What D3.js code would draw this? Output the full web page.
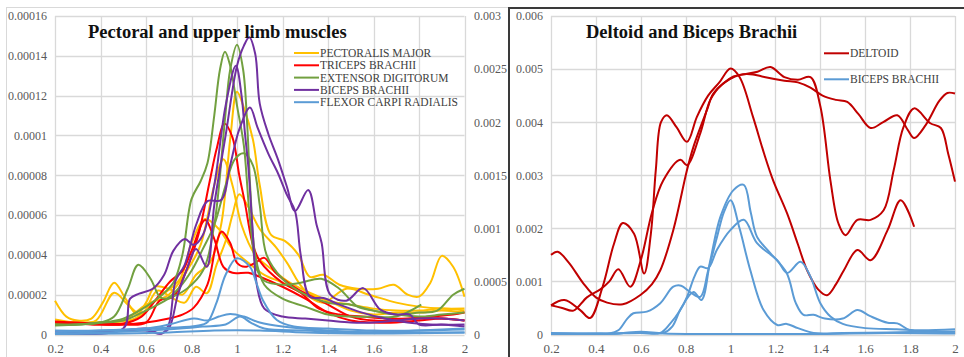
<!DOCTYPE html>
<html>
<head>
<meta charset="utf-8">
<script src="https://cdn.jsdelivr.net/npm/d3@7"></script>
<style>
  body { margin: 0; background: #fff; }
  svg { display: block; font-family: "Liberation Serif", "Times New Roman", serif; }
</style>
</head>
<body>
<svg id="chart" width="964" height="357"></svg>
<script>
// ---------- shared axis ticks ----------
const xTicks = [0.2, 0.4, 0.6, 0.8, 1.0, 1.2, 1.4, 1.6, 1.8, 2.0];
const xTickLabels = ["0.2", "0.4", "0.6", "0.8", "1", "1.2", "1.4", "1.6", "1.8", "2"];

const leftYTicks = [0, 0.00002, 0.00004, 0.00006, 0.00008, 0.0001, 0.00012, 0.00014, 0.00016];
const leftYTickLabels = ["0", "0.00002", "0.00004", "0.00006", "0.00008", "0.0001", "0.00012", "0.00014", "0.00016"];
const secondaryYTicks = [0, 0.0005, 0.001, 0.0015, 0.002, 0.0025, 0.003];
const secondaryYTickLabels = ["0", "0.0005", "0.001", "0.0015", "0.002", "0.0025", "0.003"];
const rightYTicks = [0, 0.001, 0.002, 0.003, 0.004, 0.005, 0.006];
const rightYTickLabels = ["0", "0.001", "0.002", "0.003", "0.004", "0.005", "0.006"];

// ---------- left panel: pectoral and upper limb muscles (values ×1e-5) ----------
const leftUnit = 1e-5;
const pectoralisMajor = [
  [[0.2,1.7],[0.25,0.9],[0.3,0.7],[0.36,0.8],[0.41,1.6],[0.46,2.6],[0.51,1.8],[0.56,1.0],[0.6,1.6],[0.64,2.4],[0.7,2.3],[0.76,2.0],[0.82,3.0],[0.88,3.6],[0.93,5.5],[0.97,9.8],[1.0,12.2],[1.03,11.4],[1.07,9.8],[1.1,7.5],[1.15,5.0],[1.21,4.7],[1.27,4.0],[1.32,2.9],[1.38,3.0],[1.45,2.5],[1.53,2.3],[1.62,2.3],[1.69,2.5],[1.75,2.0],[1.8,1.9],[1.85,2.6],[1.9,3.95],[1.95,3.4],[2.0,1.9]],
  [[0.2,0.75],[0.3,0.6],[0.38,0.7],[0.46,2.1],[0.52,1.5],[0.58,1.0],[0.65,2.2],[0.72,1.8],[0.77,1.6],[0.82,2.4],[0.867,2.07],[0.91,3.5],[0.95,4.7],[0.98,6.0],[1.01,7.05],[1.05,6.4],[1.1,5.3],[1.17,4.4],[1.22,3.6],[1.3,2.2],[1.4,1.7],[1.5,1.5],[1.6,1.3],[1.7,1.2],[1.8,1.2],[1.9,1.3],[2.0,1.2]],
  [[0.2,0.6],[0.35,0.6],[0.5,0.7],[0.6,1.5],[0.7,2.0],[0.78,3.2],[0.84,4.5],[0.9,7.5],[0.94,8.8],[0.98,7.5],[1.02,5.5],[1.08,4.0],[1.15,3.3],[1.22,2.7],[1.3,2.2],[1.4,1.7],[1.5,1.2],[1.6,1.0],[1.7,1.1],[1.8,1.1],[1.9,1.2],[2.0,1.1]],
  [[0.2,0.5],[0.4,0.6],[0.55,0.8],[0.65,1.8],[0.75,2.8],[0.8,4.6],[0.86,5.8],[0.92,5.3],[0.98,4.3],[1.05,3.6],[1.12,3.0],[1.2,2.6],[1.3,2.0],[1.38,1.6],[1.48,2.3],[1.58,2.0],[1.7,1.6],[1.8,1.4],[1.9,1.3],[2.0,1.3]]
];
const tricepsBrachii = [
  [[0.2,0.6],[0.3,0.55],[0.4,0.5],[0.5,0.5],[0.6,0.6],[0.66,1.7],[0.72,1.9],[0.78,3.3],[0.83,5.0],[0.88,7.7],[0.91,9.3],[0.945,10.6],[0.98,9.9],[1.01,8.0],[1.035,6.6],[1.07,4.5],[1.1,3.7],[1.2,2.6],[1.28,2.1],[1.36,1.3],[1.45,1.0],[1.55,0.9],[1.65,0.8],[1.75,0.8],[1.85,0.9],[1.95,1.0],[2.0,1.1]],
  [[0.2,0.6],[0.3,0.55],[0.4,0.5],[0.5,0.5],[0.6,0.6],[0.7,0.8],[0.76,1.0],[0.81,1.35],[0.87,2.5],[0.91,4.6],[0.933,5.17],[0.97,4.6],[1.0,3.6],[1.035,3.4],[1.08,3.6],[1.12,3.85],[1.17,3.1],[1.25,2.4],[1.33,1.9],[1.4,1.5],[1.5,0.9],[1.6,0.7],[1.7,0.7],[1.8,0.8],[1.9,0.8],[2.0,0.7]],
  [[0.2,0.65],[0.3,0.6],[0.4,0.55],[0.5,0.55],[0.58,0.9],[0.64,1.7],[0.705,2.65],[0.76,3.2],[0.8,4.2],[0.86,5.75],[0.9,4.8],[0.94,3.4],[0.98,3.1],[1.05,3.1],[1.1,2.9],[1.2,2.4],[1.3,1.8],[1.4,1.1],[1.5,0.7],[1.6,0.6],[1.7,0.6],[1.8,0.7],[1.9,0.8],[2.0,0.7]]
];
const extensorDigitorum = [
  [[0.2,0.5],[0.3,0.5],[0.4,0.6],[0.5,0.8],[0.6,1.4],[0.66,1.9],[0.72,2.6],[0.76,4.0],[0.8,6.8],[0.84,7.7],[0.87,8.6],[0.9,11],[0.925,13.3],[0.947,14.2],[0.97,13.5],[1.0,11.5],[1.03,9.5],[1.057,5.8],[1.087,3.3],[1.12,2.7],[1.2,2.5],[1.28,2.6],[1.37,2.8],[1.45,2.3],[1.53,1.4],[1.6,1.2],[1.7,1.0],[1.8,1.1],[1.88,1.2],[1.95,2.0],[2.0,2.3]],
  [[0.2,0.45],[0.3,0.5],[0.4,0.6],[0.5,0.7],[0.6,1.2],[0.7,1.8],[0.78,2.3],[0.85,3.2],[0.9,5.5],[0.947,10.8],[0.97,13.3],[1.0,14.55],[1.027,13.3],[1.045,10.5],[1.06,7.0],[1.08,4.0],[1.12,2.5],[1.2,1.8],[1.3,1.4],[1.4,1.0],[1.5,0.9],[1.6,0.9],[1.7,0.9],[1.81,1.5]],
  [[0.2,0.5],[0.3,0.5],[0.4,0.6],[0.46,0.9],[0.52,2.3],[0.566,3.5],[0.62,2.8],[0.66,1.9],[0.69,1.8],[0.75,2.4],[0.8,3.2],[0.85,4.3],[0.9,5.5],[0.95,7.5],[0.99,8.8],[1.03,9.1],[1.07,8.5],[1.1,6.5],[1.13,4.0],[1.2,2.8],[1.3,2.0],[1.4,1.6],[1.5,1.5],[1.6,1.2],[1.7,1.0],[1.8,0.9],[1.9,1.0],[2.0,1.1]]
];
const bicepsBrachiiLeft = [
  [[0.2,0.1],[0.3,0.1],[0.4,0.15],[0.5,0.2],[0.6,0.3],[0.66,0.05],[0.7,0.3],[0.74,2.0],[0.78,3.3],[0.82,4.3],[0.867,3.4],[0.9,6.5],[0.95,10],[1.0,13.5],[1.03,14.5],[1.054,14.93],[1.08,14.1],[1.1,11.6],[1.137,10.1],[1.18,8.8],[1.22,7.4],[1.255,6.2],[1.313,7.26],[1.35,5.5],[1.372,4.6],[1.41,2.0],[1.48,1.7],[1.555,2.33],[1.63,1.25],[1.7,1.0],[1.76,1.0],[1.8,0.5],[1.9,0.5],[2.0,0.4]],
  [[0.2,0.05],[0.4,0.1],[0.5,0.2],[0.6,0.2],[0.67,0.05],[0.7,0.5],[0.73,2.7],[0.77,3.5],[0.82,5.5],[0.87,6.7],[0.93,6.75],[0.97,8.5],[1.01,10.3],[1.057,11.4],[1.09,10.4],[1.137,9.1],[1.18,8.1],[1.22,7.0],[1.255,6.2],[1.28,4.0],[1.32,1.9],[1.38,1.83],[1.45,1.5],[1.55,1.1],[1.65,0.8],[1.75,0.6],[1.85,0.5],[2.0,0.5]],
  [[0.2,0.1],[0.5,0.3],[0.53,1.8],[0.57,2.05],[0.63,2.3],[0.68,3.0],[0.72,4.2],[0.77,4.8],[0.81,4.5],[0.85,5.0],[0.9,7.5],[0.95,11.5],[0.995,13.5],[1.02,12],[1.035,10.1],[1.05,8.4],[1.07,5],[1.087,2.5],[1.12,1.3],[1.2,0.9],[1.3,0.8],[1.4,0.7],[1.5,0.6],[1.6,0.6],[1.7,0.7],[1.8,0.8],[1.9,0.8],[2.0,0.7]]
];
const flexorCarpiRadialis = [
  [[0.2,0.2],[0.4,0.2],[0.6,0.3],[0.8,0.4],[0.85,0.5],[0.873,0.65],[0.91,1.6],[0.95,3.0],[0.999,3.83],[1.057,3.4],[1.085,2.6],[1.115,1.7],[1.175,0.73],[1.25,0.4],[1.4,0.3],[1.6,0.2],[1.8,0.2],[2.0,0.25]],
  [[0.2,0.1],[0.4,0.2],[0.6,0.3],[0.7,0.5],[0.81,0.8],[0.87,0.7],[0.92,0.9],[0.97,1.03],[1.03,0.9],[1.1,0.6],[1.2,0.4],[1.4,0.2],[1.6,0.1],[1.8,0.1],[2.0,0.1]],
  [[0.2,0.05],[0.4,0.1],[0.6,0.2],[0.75,0.3],[0.85,0.4],[0.95,0.5],[1.013,0.9],[1.06,0.6],[1.12,0.3],[1.3,0.2],[1.5,0.1],[1.8,0.2],[2.0,0.3]],
  [[0.2,0.02],[0.5,0.05],[0.7,0.1],[0.9,0.2],[1.1,0.2],[1.3,0.1],[1.6,0.05],[2.0,0.1]]
];

// ---------- right panel: deltoid and biceps brachii (values ×1e-3) ----------
const rightUnit = 1e-3;
const deltoid = [
  [[0.2,0.55],[0.26,0.65],[0.33,0.46],[0.374,0.31],[0.43,0.9],[0.48,1.7],[0.52,2.1],[0.57,1.9],[0.615,1.15],[0.645,1.9],[0.667,3.1],[0.69,4.0],[0.716,4.13],[0.76,3.9],[0.806,3.63],[0.85,4.1],[0.9,4.5],[0.95,4.75],[1.0,5.01],[1.04,4.85],[1.1,4.1],[1.15,3.4],[1.19,2.9],[1.252,2.28],[1.3,1.7],[1.341,1.21],[1.39,0.85],[1.43,0.74],[1.47,0.95],[1.505,1.21],[1.565,1.59],[1.624,1.4],[1.7,1.97],[1.758,2.53],[1.818,2.03]],
  [[0.2,1.5],[0.23,1.56],[0.28,1.35],[0.343,0.97],[0.4,0.7],[0.45,0.6],[0.52,0.57],[0.6,0.75],[0.65,0.95],[0.687,1.21],[0.745,1.97],[0.806,3.1],[0.835,3.54],[0.895,4.23],[0.925,4.55],[1.013,4.86],[1.06,4.9],[1.12,4.95],[1.178,5.04],[1.24,4.85],[1.3,4.8],[1.356,4.85],[1.4,4.3],[1.445,2.9],[1.48,2.1],[1.512,1.87],[1.565,2.16],[1.624,2.16],[1.682,2.34],[1.727,3.1],[1.77,3.9],[1.818,4.26],[1.89,3.98],[1.937,3.89],[1.97,3.4],[2.0,2.88]],
  [[0.2,0.55],[0.25,0.5],[0.3,0.45],[0.36,0.7],[0.42,0.85],[0.46,1.0],[0.5,1.23],[0.553,0.9],[0.6,1.4],[0.65,2.3],[0.7,2.9],[0.776,3.29],[0.806,3.19],[0.865,3.79],[0.91,4.42],[0.96,4.7],[1.04,4.89],[1.1,4.9],[1.15,4.85],[1.24,4.78],[1.3,4.75],[1.356,4.65],[1.41,4.5],[1.47,4.42],[1.52,4.38],[1.57,4.15],[1.624,3.89],[1.68,4.0],[1.743,4.13],[1.79,3.85],[1.818,3.7],[1.87,3.95],[1.93,4.4],[1.966,4.55],[2.0,4.54]]
];
const bicepsBrachiiRight = [
  [[0.2,0.02],[0.3,0.02],[0.4,0.02],[0.46,0.02],[0.5,0.08],[0.54,0.3],[0.567,0.4],[0.627,0.43],[0.687,0.59],[0.745,0.9],[0.78,0.92],[0.82,0.8],[0.865,0.71],[0.9,1.2],[0.94,1.84],[0.97,2.3],[1.0,2.53],[1.04,2.0],[1.088,1.21],[1.147,0.46],[1.208,0.18],[1.25,0.2],[1.3,0.12],[1.37,0.03],[1.5,0.03],[1.7,0.04],[1.85,0.05],[2.0,0.05]],
  [[0.2,0.03],[0.4,0.02],[0.6,0.03],[0.687,0.03],[0.73,0.2],[0.776,0.46],[0.806,0.71],[0.84,1.1],[0.865,1.28],[0.9,1.25],[0.94,1.6],[1.0,1.97],[1.059,2.16],[1.118,1.72],[1.208,1.4],[1.252,1.16],[1.312,1.37],[1.356,1.09],[1.4,0.59],[1.445,0.34],[1.5,0.2],[1.6,0.12],[1.74,0.1],[1.85,0.08],[2.0,0.1]],
  [[0.2,0.01],[0.5,0.02],[0.6,0.04],[0.7,0.03],[0.74,0.15],[0.78,0.5],[0.835,0.8],[0.87,0.65],[0.91,1.4],[0.955,2.22],[1.013,2.72],[1.059,2.82],[1.09,2.3],[1.118,1.84],[1.178,1.53],[1.25,1.16],[1.29,0.6],[1.325,0.37],[1.37,0.37],[1.42,0.3],[1.5,0.3],[1.565,0.46],[1.62,0.35],[1.7,0.22],[1.743,0.21],[1.8,0.08],[1.9,0.05],[2.0,0.05]],
  [[0.2,0.01],[0.5,0.02],[0.6,0.05],[0.7,0.02],[0.9,0.01],[1.2,0.01],[1.4,0.01],[1.7,0.03],[2.0,0.02]]
];

const leftSeriesNames = ["PECTORALIS MAJOR", "TRICEPS BRACHII", "EXTENSOR DIGITORUM", "BICEPS BRACHII", "FLEXOR CARPI RADIALIS"];
const rightSeriesNames = ["DELTOID", "BICEPS BRACHII"];

// ---------- drawing ----------
const svg = d3.select("#chart");
const serif = "'Liberation Serif', 'Times New Roman', serif";
const gridColor = "#d9d9d9";
const labelColor = "#595959";
const legendColor = "#404040";

const leftColors = ["#ffc000", "#ff0000", "#72a040", "#7030a0", "#5b9bd5"];
const rightColors = ["#c00000", "#5b9bd5"];

// outer frames
svg.append("rect").attr("x", 6.5).attr("y", 7.5).attr("width", 502).attr("height", 360)
  .attr("fill", "none").attr("stroke", gridColor).attr("stroke-width", 1);
svg.append("path").attr("d", "M509,357V8H964")
  .attr("fill", "none").attr("stroke", "#3a3a3a").attr("stroke-width", 2);

function styleAxis(sel, size) {
  sel.attr("font-family", serif).attr("font-size", size);
  sel.select(".domain").remove();
  sel.selectAll("text").attr("fill", labelColor)
    .style("font-family", serif).style("font-size", size + "px");
}

function panel(opts) {
  const { left, right, top, bottom, yMax, yTicks, yTickLabels, unit, groups, colors, id } = opts;
  const x = d3.scaleLinear().domain([0.2, 2]).range([left, right]);
  const y = d3.scaleLinear().domain([0, yMax]).range([bottom, top]);
  const g = svg.append("g");

  // gridlines
  g.append("g").selectAll("line").data(yTicks).join("line")
    .attr("x1", left).attr("x2", right)
    .attr("y1", d => Math.round(y(d)) + 0.5).attr("y2", d => Math.round(y(d)) + 0.5)
    .attr("stroke", gridColor).attr("stroke-width", 1.3);
  g.append("g").selectAll("line").data(xTicks).join("line")
    .attr("x1", d => Math.round(x(d)) + 0.5).attr("x2", d => Math.round(x(d)) + 0.5)
    .attr("y1", top).attr("y2", bottom)
    .attr("stroke", gridColor).attr("stroke-width", 1.3);

  // axes
  const ya = g.append("g").attr("transform", `translate(${left},0)`)
    .call(d3.axisLeft(y).tickValues(yTicks)
      .tickFormat((d, i) => yTickLabels[i]).tickSize(0).tickPadding(8));
  const xa = g.append("g").attr("transform", `translate(0,${bottom})`)
    .call(d3.axisBottom(x).tickValues(xTicks)
      .tickFormat((d, i) => xTickLabels[i]).tickSize(0).tickPadding(9));
  styleAxis(ya, 12);
  styleAxis(xa, 13);

  // data lines
  g.append("clipPath").attr("id", id).append("rect")
    .attr("x", left - 1).attr("y", top - 4).attr("width", right - left + 2).attr("height", bottom - top + 5);
  const line = d3.line()
    .x(d => x(d[0]))
    .y(d => y(d[1] * unit))
    .curve(d3.curveCatmullRom.alpha(0.5));
  const lg = g.append("g").attr("clip-path", `url(#${id})`);
  groups.forEach((trials, i) => {
    lg.append("g").selectAll("path").data(trials).join("path")
      .attr("d", line)
      .attr("fill", "none")
      .attr("stroke", colors[i])
      .attr("stroke-width", 2)
      .attr("stroke-linejoin", "round");
  });
  return { x, y, g };
}

// left panel
panel({
  left: 55, right: 464.5, top: 16, bottom: 334.5, yMax: 0.00016,
  yTicks: leftYTicks, yTickLabels: leftYTickLabels, unit: leftUnit,
  groups: [pectoralisMajor, tricepsBrachii, extensorDigitorum, bicepsBrachiiLeft, flexorCarpiRadialis],
  colors: leftColors, id: "clipL"
});
// secondary axis of the left panel
const y2 = d3.scaleLinear().domain([0, 0.003]).range([334.5, 16]);
const y2a = svg.append("g").attr("transform", "translate(466,0)")
  .call(d3.axisRight(y2).tickValues(secondaryYTicks)
    .tickFormat((d, i) => secondaryYTickLabels[i]).tickSize(0).tickPadding(8));
styleAxis(y2a, 12);

// right panel
panel({
  left: 551, right: 955, top: 16, bottom: 334.5, yMax: 0.006,
  yTicks: rightYTicks, yTickLabels: rightYTickLabels, unit: rightUnit,
  groups: [deltoid, bicepsBrachiiRight],
  colors: rightColors, id: "clipR"
});

// titles
svg.append("text").attr("x", 88).attr("y", 37.5)
  .attr("font-family", serif).attr("font-weight", "bold").attr("font-size", 18.5).attr("fill", "#111")
  .text("Pectoral and upper limb muscles");
svg.append("text").attr("x", 586).attr("y", 37.5)
  .attr("font-family", serif).attr("font-weight", "bold").attr("font-size", 18.5).attr("fill", "#111")
  .text("Deltoid and Biceps Brachii");

// legends
function legend(x0, y0, step, names, colors) {
  const lg = svg.append("g");
  names.forEach((name, i) => {
    const yy = y0 + i * step;
    lg.append("line").attr("x1", x0).attr("x2", x0 + 25).attr("y1", yy).attr("y2", yy)
      .attr("stroke", colors[i]).attr("stroke-width", 2);
    lg.append("text").attr("x", x0 + 26).attr("y", yy).attr("dy", "0.35em")
      .attr("font-family", serif).attr("font-size", 11.5).attr("fill", legendColor).text(name);
  });
}
legend(294, 53, 12.3, leftSeriesNames, leftColors);
legend(824, 53.3, 26, rightSeriesNames, rightColors);
</script>
</body>
</html>
